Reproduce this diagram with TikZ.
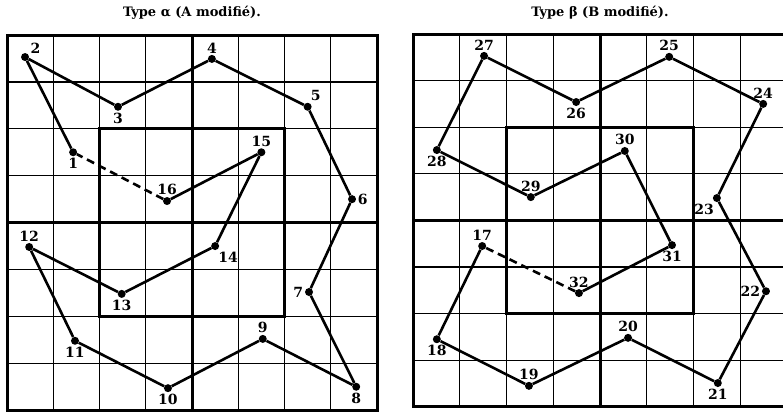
\documentclass[tikz,border=0pt]{standalone}
\usepackage{fontspec}
\setmainfont{DejaVu Serif}
\usepackage{tikz}

\begin{document}
\begin{tikzpicture}[
    x=1pt, y=-1pt,
    fine/.style={line width=1.3pt},
    heavy/.style={line width=3pt},
    dot/.style={circle, fill=black, inner sep=0pt, minimum size=8pt},
    edge/.style={line width=2.6pt},
    back/.style={line width=2.6pt, dash pattern=on 8pt off 5pt},
    every label/.style={font=\bfseries\fontsize{14}{14}\selectfont, inner sep=1.5pt},
    heading/.style={font=\bfseries\fontsize{13}{13}\selectfont}
]
\useasboundingbox (0,0) rectangle (783,413);

% Type alpha
\begin{scope}[shift={(7,35)}, x=46.25pt, y=-46.9pt]
\node[heading] (titleA) at (4,-0.47) {Type α (A modifié).};

% Grid
\foreach \i in {1,...,7} {
  \draw[fine] (\i,0) -- (\i,8);
  \draw[fine] (0,\i) -- (8,\i);
}
\draw[heavy] (0,0) rectangle (8,8);
\draw[heavy] (2,2) rectangle (6,6);
\draw[heavy] (4,0) -- (4,8) (0,4) -- (8,4);

% Points
\node[dot, label=below:1] (a1) at (1.43,2.50) {};
\node[dot, label=20:2] (a2) at (0.39,0.47) {};
\node[dot, label=below:3] (a3) at (2.40,1.53) {};
\node[dot, label=above:4] (a4) at (4.43,0.51) {};
\node[dot, label=70:5] (a5) at (6.50,1.53) {};
\node[dot, label=right:6] (a6) at (7.46,3.50) {};
\node[dot, label=left:7] (a7) at (6.53,5.48) {};
\node[dot, label=below:8] (a8) at (7.55,7.50) {};
\node[dot, label=above:9] (a9) at (5.53,6.48) {};
\node[dot, label=below:10] (a10) at (3.48,7.53) {};
\node[dot, label=below:11] (a11) at (1.47,6.52) {};
\node[dot, label=above:12] (a12) at (0.48,4.52) {};
\node[dot, label=below:13] (a13) at (2.48,5.52) {};
\node[dot, label=-70:14] (a14) at (4.50,4.50) {};
\node[dot, label=above:15] (a15) at (5.50,2.50) {};
\node[dot, label=above:16] (a16) at (3.46,3.54) {};

% Tour
\draw[edge] (a1) -- (a2) -- (a3) -- (a4) -- (a5) -- (a6) -- (a7) -- (a8)
  -- (a9) -- (a10) -- (a11) -- (a12) -- (a13) -- (a14) -- (a15) -- (a16);
\draw[back] (a16) -- (a1);
\end{scope}

% Type beta
\begin{scope}[shift={(413,34)}, x=46.75pt, y=-46.6pt]
\node[heading] (titleB) at (4,-0.45) {Type β (B modifié).};

% Grid
\foreach \i in {1,...,7} {
  \draw[fine] (\i,0) -- (\i,8);
  \draw[fine] (0,\i) -- (8,\i);
}
\draw[heavy] (0,0) rectangle (8,8);
\draw[heavy] (2,2) rectangle (6,6);
\draw[heavy] (4,0) -- (4,8) (0,4) -- (8,4);

% Points
\node[dot, label=above:17] (b17) at (1.48,4.55) {};
\node[dot, label=below:18] (b18) at (0.51,6.55) {};
\node[dot, label=above:19] (b19) at (2.48,7.55) {};
\node[dot, label=above:20] (b20) at (4.60,6.52) {};
\node[dot, label=below:21] (b21) at (6.52,7.49) {};
\node[dot, label=left:22] (b22) at (7.55,5.52) {};
\node[dot, label=-110:23] (b23) at (6.50,3.52) {};
\node[dot, label=above:24] (b24) at (7.49,1.50) {};
\node[dot, label=above:25] (b25) at (5.48,0.49) {};
\node[dot, label=below:26] (b26) at (3.49,1.46) {};
\node[dot, label=above:27] (b27) at (1.52,0.47) {};
\node[dot, label=below:28] (b28) at (0.51,2.49) {};
\node[dot, label=above:29] (b29) at (2.52,3.50) {};
\node[dot, label=above:30] (b30) at (4.53,2.51) {};
\node[dot, label=below:31] (b31) at (5.54,4.53) {};
\node[dot, label=above:32] (b32) at (3.55,5.56) {};

% Tour
\draw[edge] (b17) -- (b18) -- (b19) -- (b20) -- (b21) -- (b22) -- (b23) -- (b24)
  -- (b25) -- (b26) -- (b27) -- (b28) -- (b29) -- (b30) -- (b31) -- (b32);
\draw[back] (b32) -- (b17);
\end{scope}

\end{tikzpicture}
\end{document}
